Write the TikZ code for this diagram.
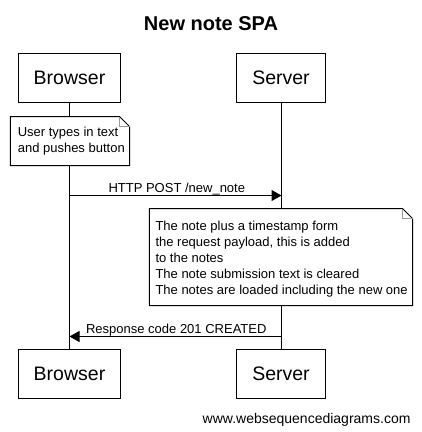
\documentclass[tikz,border=0pt]{standalone}
\usepackage{fontspec}
\setmainfont{Liberation Sans}
\usetikzlibrary{arrows.meta}
\begin{document}
\begin{tikzpicture}[x=1bp,y=1bp,
  line width=1bp,
  actor/.style={draw=black, fill=white, rectangle, inner sep=0pt, outer sep=0pt,
    minimum height=49bp, font=\fontsize{19.5bp}{22bp}\selectfont},
  notebody/.style={fill=white, rectangle, inner sep=0pt, outer sep=0pt},
  notetext/.style={anchor=north west, align=left, inner sep=0pt,
    font=\fontsize{13bp}{16bp}\selectfont},
  msglabel/.style={anchor=base, inner sep=0pt, font=\fontsize{13bp}{16bp}\selectfont},
  msg/.style={-{Triangle[length=10bp,width=11bp]}},
  foldline/.style={draw=gray!80},
]
\useasboundingbox (0,0) rectangle (422,-432);
% title
\node[anchor=base, inner sep=0pt, font=\fontsize{20bp}{24bp}\selectfont\bfseries] (title) at (211,-30.5) {New note SPA};
% actors
\node[actor, minimum width=102bp] (b1) at (69.5,-78) {Browser};
\node[actor, minimum width=89bp] (s1) at (281,-78) {Server};
\node[actor, minimum width=102bp] (b2) at (69.5,-374) {Browser};
\node[actor, minimum width=89bp] (s2) at (281,-374) {Server};
% lifelines
\draw (b1.south) -- (b2.north);
\draw ([xshift=0.5bp]s1.south) -- ([xshift=0.5bp]s2.north);
% note 1
\node[notebody, minimum width=119bp, minimum height=49bp] (n1) at (70,-141) {};
\draw (n1.north west) -- ([xshift=-10bp]n1.north east) -- ([yshift=-10bp]n1.north east)
  -- (n1.south east) -- (n1.south west) -- cycle;
\draw[foldline] ([xshift=-10bp]n1.north east) -- ([xshift=-10bp,yshift=-10bp]n1.north east)
  -- ([yshift=-10bp]n1.north east);
\node[notetext] (t1) at (17.3,-124.8) {\strut User types in text\\and pushes button\strut};
% message 1
\coordinate (m1a) at (69.5,-195.5);
\coordinate (m1b) at (281.5,-195.5);
\draw[msg] (m1a) -- (m1b) node[msglabel, pos=0.5, xshift=1.3bp, yshift=3bp] (l1) {HTTP POST /new\_note};
% note 2
\node[notebody, minimum width=263bp, minimum height=97bp] (n2) at (281,-257) {};
\draw (n2.north west) -- ([xshift=-10bp]n2.north east) -- ([yshift=-10bp]n2.north east)
  -- (n2.south east) -- (n2.south west) -- cycle;
\draw[foldline] ([xshift=-10bp]n2.north east) -- ([xshift=-10bp,yshift=-10bp]n2.north east)
  -- ([yshift=-10bp]n2.north east);
\node[notetext] (t2) at (155,-218.8) {\strut The note plus a timestamp form\\
  the request payload, this is added\\
  to the notes\\
  The note submission text is cleared\\
  The notes are loaded including the new one\strut};
% message 2
\coordinate (m2a) at (281.5,-336.5);
\coordinate (m2b) at (69.5,-336.5);
\draw[msg] (m2a) -- (m2b) node[msglabel, pos=0.5, xshift=0.8bp, yshift=3bp] (l2) {Response code 201 CREATED};
% footer
\node[anchor=base east, inner sep=0pt, font=\fontsize{14bp}{16bp}\selectfont] (footer) at (411,-423) {www.websequencediagrams.com};
\end{tikzpicture}
\end{document}
